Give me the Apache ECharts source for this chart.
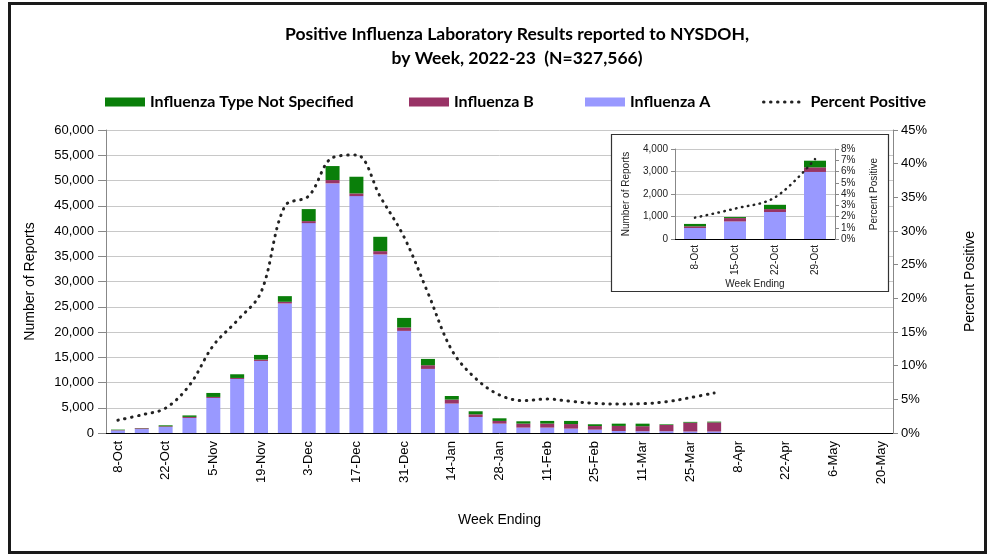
<!DOCTYPE html>
<html><head><meta charset="utf-8">
<script src="https://cdn.jsdelivr.net/npm/echarts@6/dist/echarts.min.js"></script>
<style>html,body{margin:0;padding:0;background:#fff}#c{width:990px;height:556px}</style>
</head><body><div id="c"></div>
<script>
const weeks = ['8-Oct','15-Oct','22-Oct','29-Oct','5-Nov','12-Nov','19-Nov','26-Nov','3-Dec','10-Dec','17-Dec','24-Dec','31-Dec','7-Jan','14-Jan','21-Jan','28-Jan','4-Feb','11-Feb','18-Feb','25-Feb','4-Mar','11-Mar','18-Mar','25-Mar','1-Apr','8-Apr','15-Apr','22-Apr','29-Apr','6-May','13-May','20-May'];
const fluA = [490,780,1200,2980,6940,10700,14270,25650,41560,49430,46910,35360,20220,12690,5830,3170,1860,1070,1070,870,670,400,350,350,300,300];
const fluB = [75,150,130,205,200,200,270,330,400,660,535,650,670,730,790,530,530,790,800,900,710,1000,1000,1230,1750,1800];
const notSpecified = [105,45,190,295,790,730,920,1120,2380,2770,3300,2840,1900,1250,710,600,520,460,520,620,350,450,500,130,150,150];
const pctPositive = [1.9,2.7,3.7,7.1,13.0,16.7,20.9,33.7,35.2,40.9,41.3,35.1,29.1,20.8,12.3,8.1,5.65,4.8,5.05,4.7,4.4,4.3,4.35,4.65,5.25,5.95];
const insetCount = 4;
const insetWeeks = weeks.slice(0, insetCount);

const C_A = '#9999ff', C_B = '#993366', C_NS = '#0a7f0a';
const AX = "'Liberation Sans', Arial, sans-serif";
const BOLD = "Lato, 'Open Sans', sans-serif";
const dotLine = {color:'#222', width:3, type:[0.5,6.5], cap:'round'};
const dotLineSmall = {color:'#222', width:2.5, type:[0.5,5.5], cap:'round'};

const chart = echarts.init(document.getElementById('c'), null, {renderer:'canvas'});
const commas = v => Number(v).toLocaleString('en-US');

const legendText = {fontFamily:BOLD, fontWeight:'bold', fontSize:16, color:'#000'};
const legendBase = {top:94, padding:0, itemWidth:40, itemHeight:9, itemGap:0, icon:'rect', textStyle:legendText, selectedMode:false};

chart.setOption({
  animation:false,
  backgroundColor:'#fff',
  graphic:[
    {type:'rect', shape:{x:9.5,y:3.5,width:976,height:549}, style:{fill:'none', stroke:'#1a1a1a', lineWidth:3}, z:1},
    {type:'text', x:517, y:34, style:{text:'Positive Influenza Laboratory Results reported to NYSDOH,', font:'bold 17.5px '+BOLD, fill:'#000', align:'center', verticalAlign:'middle'}},
    {type:'text', x:517, y:58, style:{text:'by Week, 2022-23  (N=327,566)', font:'bold 17.5px '+BOLD, fill:'#000', align:'center', verticalAlign:'middle'}},
    {type:'rect', shape:{x:611.5,y:134.5,width:277,height:157}, style:{fill:'#fff', stroke:'#333', lineWidth:1.2}, z:5}
  ],
  legend:[
    Object.assign({}, legendBase, {left:105, data:['Influenza Type Not Specified']}),
    Object.assign({}, legendBase, {left:409, data:['Influenza B']}),
    Object.assign({}, legendBase, {left:585, data:['Influenza A']}),
    {top:94, left:762, padding:0, itemWidth:42, itemHeight:9, itemGap:0, textStyle:legendText, selectedMode:false,
     data:['Percent Positive'],
     itemStyle:{color:'rgba(0,0,0,0)', borderWidth:0, opacity:0},
     lineStyle:{color:'#222', width:3, type:[0.5,6.5], cap:'round'}}
  ],
  grid:[
    {left:106, right:97, top:130, bottom:123, outerBoundsMode:'none', containLabel:false},
    {left:675, width:160, top:149, height:90, outerBoundsMode:'none', containLabel:false, z:10}
  ],
  xAxis:[
    {type:'category', gridIndex:0, data:weeks, boundaryGap:true,
     name:'Week Ending', nameLocation:'middle', nameGap:80, nameTextStyle:{fontFamily:AX, fontSize:14, color:'#000'},
     axisLine:{lineStyle:{color:'#000', width:1}},
     axisTick:{interval:0, length:5, lineStyle:{color:'#000'}},
     axisLabel:{interval:1, rotate:90, fontFamily:AX, fontSize:13, color:'#000', margin:8},
     splitLine:{show:false}},
    {type:'category', gridIndex:1, data:insetWeeks, boundaryGap:true, z:10,
     name:'Week Ending', nameLocation:'middle', nameGap:39, nameTextStyle:{fontFamily:AX, fontSize:10, color:'#222'},
     axisLine:{lineStyle:{color:'#000', width:1}},
     axisTick:{interval:0, length:4, lineStyle:{color:'#000'}},
     axisLabel:{interval:0, rotate:90, fontFamily:AX, fontSize:10, color:'#222', margin:6},
     splitLine:{show:false}}
  ],
  yAxis:[
    {type:'value', gridIndex:0, min:0, max:60000, interval:5000, position:'left',
     name:'Number of Reports', nameLocation:'middle', nameGap:69, nameTextStyle:{fontFamily:AX, fontSize:14, color:'#000'},
     axisLine:{show:true, lineStyle:{color:'#888'}},
     axisTick:{show:true, length:8, lineStyle:{color:'#888'}},
     axisLabel:{fontFamily:AX, fontSize:13, color:'#000', margin:12, formatter:commas},
     splitLine:{show:true, lineStyle:{color:'#c8c8c8', width:1}}},
    {type:'value', gridIndex:0, min:0, max:45, interval:5, position:'right',
     name:'Percent Positive', nameLocation:'middle', nameGap:70, nameTextStyle:{fontFamily:AX, fontSize:14, color:'#000'},
     axisLine:{show:true, lineStyle:{color:'#888'}},
     axisTick:{show:true, length:5, lineStyle:{color:'#888'}},
     axisLabel:{fontFamily:AX, fontSize:13, color:'#000', margin:8, formatter:'{value}%'},
     splitLine:{show:false}},
    {type:'value', gridIndex:1, min:0, max:4000, interval:1000, position:'left', z:10,
     name:'Number of Reports', nameLocation:'middle', nameGap:44, nameTextStyle:{fontFamily:AX, fontSize:10, color:'#222'},
     axisLine:{show:true, lineStyle:{color:'#888'}},
     axisTick:{show:true, length:4, lineStyle:{color:'#888'}},
     axisLabel:{fontFamily:AX, fontSize:10, color:'#222', margin:7, formatter:commas},
     splitLine:{show:true, lineStyle:{color:'#c8c8c8', width:1}}},
    {type:'value', gridIndex:1, min:0, max:8, interval:1, position:'right', z:10,
     name:'Percent Positive', nameLocation:'middle', nameGap:34, nameTextStyle:{fontFamily:AX, fontSize:10, color:'#222'},
     axisLine:{show:true, lineStyle:{color:'#888'}},
     axisTick:{show:true, length:4, lineStyle:{color:'#888'}},
     axisLabel:{fontFamily:AX, fontSize:10, color:'#222', margin:6, formatter:'{value}%'},
     splitLine:{show:false}}
  ],
  series:[
    {name:'Influenza A', type:'bar', stack:'main', xAxisIndex:0, yAxisIndex:0, data:fluA, barWidth:14, itemStyle:{color:C_A}},
    {name:'Influenza B', type:'bar', stack:'main', xAxisIndex:0, yAxisIndex:0, data:fluB, barWidth:14, itemStyle:{color:C_B}},
    {name:'Influenza Type Not Specified', type:'bar', stack:'main', xAxisIndex:0, yAxisIndex:0, data:notSpecified, barWidth:14, itemStyle:{color:C_NS}},
    {name:'Percent Positive', type:'line', xAxisIndex:0, yAxisIndex:1, data:pctPositive, smooth:0.35, symbol:'none', showSymbol:false, lineStyle:dotLine, itemStyle:{color:'#222'}},
    {name:'Influenza A', type:'bar', stack:'inset', xAxisIndex:1, yAxisIndex:2, data:fluA.slice(0,insetCount), barWidth:22, itemStyle:{color:C_A}, z:10},
    {name:'Influenza B', type:'bar', stack:'inset', xAxisIndex:1, yAxisIndex:2, data:fluB.slice(0,insetCount), barWidth:22, itemStyle:{color:C_B}, z:10},
    {name:'Influenza Type Not Specified', type:'bar', stack:'inset', xAxisIndex:1, yAxisIndex:2, data:notSpecified.slice(0,insetCount), barWidth:22, itemStyle:{color:C_NS}, z:10},
    {name:'Percent Positive', type:'line', xAxisIndex:1, yAxisIndex:3, data:pctPositive.slice(0,insetCount), smooth:0.35, symbol:'none', showSymbol:false, lineStyle:dotLineSmall, itemStyle:{color:'#222'}, z:11}
  ]
});
</script></body></html>
